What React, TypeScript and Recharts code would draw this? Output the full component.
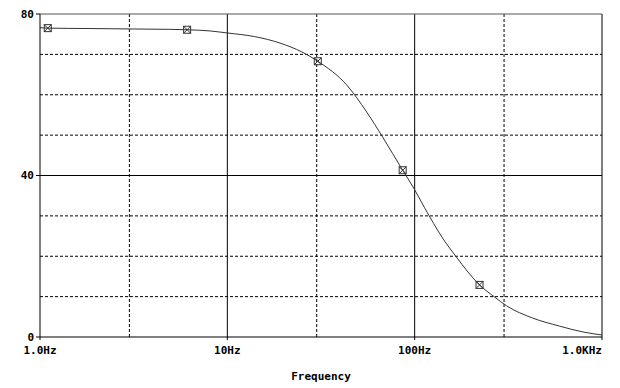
import { LineChart, Line, XAxis, YAxis, ReferenceLine } from 'recharts'

const freqs = [1, 1.1, 1.85, 3, 4.9, 6.1, 8.1, 10, 14, 19.1, 25, 30.4, 43.4, 55.5, 67.5, 86.3, 98.8, 113, 141, 167, 222, 267, 310, 426, 593, 800, 1000]
const gains = [76.6, 76.5, 76.4, 76.3, 76.2, 76.1, 75.8, 75.3, 74.4, 72.8, 70.6, 68.3, 62.4, 55.7, 49.5, 41.3, 36.9, 32, 24.5, 19.8, 12.9, 9.9, 7.7, 4.7, 2.7, 1.2, 0.5]
const markerIdx = [1, 5, 11, 15, 20]

const xTicks = [1, 10, 100, 1000]
const xTickLabels = ['1.0Hz', '10Hz', '100Hz', '1.0KHz']
const yTicks = [0, 40, 80]
const xSolid = [10, 100]
const xDotted = [3, 30, 300]
const ySolid = [40]
const yDotted = [10, 20, 30, 50, 60, 70]

const data = freqs.map((f, i) => ({ f, v: gains[i] }))

const font = '"DejaVu Sans Mono", monospace'

function XTick(props: any) {
  const { x, y, payload, index } = props
  const last = index === xTicks.length - 1
  return (
    <text x={x} y={y + 12} textAnchor={last ? 'end' : 'middle'} fontFamily={font} fontSize={11} fontWeight="bold" fill="#000">
      {xTickLabels[xTicks.indexOf(payload.value)]}
    </text>
  )
}

function Marker(props: any) {
  const { cx, cy, index } = props
  if (!markerIdx.includes(index) || cx == null) return <g key={index} />
  const s = 3.5
  return (
    <g key={index} stroke="#333" strokeWidth={1} fill="none">
      <rect x={cx - s} y={cy - s} width={s * 2} height={s * 2} />
      <path d={`M${cx - s},${cy - s}L${cx + s},${cy + s}M${cx + s},${cy - s}L${cx - s},${cy + s}`} />
    </g>
  )
}

export default function App() {
  return (
    <div style={{ position: 'absolute', left: 0, top: 0, background: '#fff' }}>
      <LineChart width={620} height={388} data={data} margin={{ top: 14, right: 18, left: 0, bottom: 0 }}>
        <XAxis
          dataKey="f"
          type="number"
          scale="log"
          domain={[1, 1000]}
          ticks={xTicks}
          tick={<XTick />}
          tickSize={3}
          height={51}
          stroke="#000"
          allowDataOverflow
          label={{ value: 'Frequency', position: 'insideBottom', offset: 8, fontFamily: font, fontSize: 11, fontWeight: 'bold', fill: '#000' }}
        />
        <YAxis
          type="number"
          domain={[0, 80]}
          ticks={yTicks}
          tickSize={4}
          width={40}
          stroke="#000"
          tick={{ fontFamily: font, fontSize: 11, fontWeight: 'bold', fill: '#000' }}
        />
        {xDotted.map(v => <ReferenceLine key={'xd' + v} x={v} stroke="#000" strokeDasharray="3 2" />)}
        {yDotted.map(v => <ReferenceLine key={'yd' + v} y={v} stroke="#000" strokeDasharray="3 2" />)}
        {xSolid.map(v => <ReferenceLine key={'xs' + v} x={v} stroke="#000" />)}
        {ySolid.map(v => <ReferenceLine key={'ys' + v} y={v} stroke="#000" />)}
        <ReferenceLine x={1000} stroke="#000" />
        <ReferenceLine y={80} stroke="#555" />
        <Line type="monotone" dataKey="v" stroke="#333" strokeWidth={1} dot={<Marker />} activeDot={false} isAnimationActive={false} />
      </LineChart>
    </div>
  )
}
